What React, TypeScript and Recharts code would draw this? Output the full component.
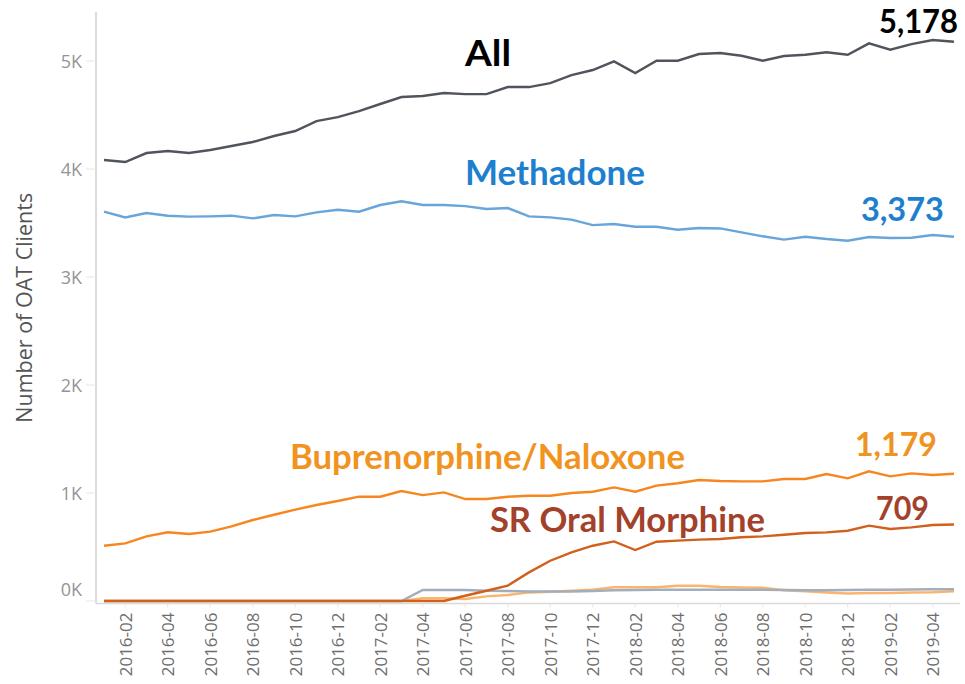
import React from 'react';
import { LineChart, Line, XAxis, YAxis, ReferenceDot, Label } from 'recharts';

const months = [
  '2016-01', '2016-02', '2016-03', '2016-04', '2016-05', '2016-06', '2016-07', '2016-08', '2016-09', '2016-10', '2016-11', '2016-12',
  '2017-01', '2017-02', '2017-03', '2017-04', '2017-05', '2017-06', '2017-07', '2017-08', '2017-09', '2017-10', '2017-11', '2017-12',
  '2018-01', '2018-02', '2018-03', '2018-04', '2018-05', '2018-06', '2018-07', '2018-08', '2018-09', '2018-10', '2018-11', '2018-12',
  '2019-01', '2019-02', '2019-03', '2019-04', '2019-05',
];

const tickMonths = [
  '2016-02', '2016-04', '2016-06', '2016-08', '2016-10', '2016-12',
  '2017-02', '2017-04', '2017-06', '2017-08', '2017-10', '2017-12',
  '2018-02', '2018-04', '2018-06', '2018-08', '2018-10', '2018-12',
  '2019-02', '2019-04',
];

const yTicks = [0, 1000, 2000, 3000, 4000, 5000];

const allClients = [
  4083, 4065, 4148, 4167, 4148, 4176, 4213, 4250, 4306, 4352, 4444, 4481,
  4537, 4602, 4667, 4676, 4704, 4694, 4694, 4759, 4759, 4796, 4870, 4917,
  4997, 4889, 5003, 5003, 5065, 5074, 5049, 5003, 5046, 5058, 5081, 5058,
  5164, 5105, 5157, 5194, 5178,
];

const methadone = [
  3605, 3552, 3593, 3568, 3559, 3562, 3568, 3543, 3574, 3562, 3599, 3623,
  3605, 3667, 3701, 3667, 3667, 3657, 3630, 3639, 3562, 3552, 3531, 3481,
  3491, 3466, 3466, 3438, 3454, 3450, 3414, 3377, 3346, 3373, 3352, 3336,
  3370, 3361, 3364, 3389, 3373,
];

const buprenorphine = [
  512, 534, 599, 636, 620, 642, 691, 750, 799, 846, 889, 926,
  966, 966, 1019, 981, 1006, 944, 944, 966, 975, 975, 1000, 1012,
  1052, 1012, 1068, 1090, 1120, 1111, 1108, 1108, 1130, 1130, 1176, 1136,
  1201, 1154, 1182, 1167, 1179,
];

const srOralMorphine = [
  0, 0, 0, 0, 0, 0, 0, 0, 0, 0, 0, 0,
  0, 0, 0, 0, 0, 49, 95, 142, 265, 373, 451, 512,
  552, 472, 549, 559, 568, 574, 590, 599, 614, 630, 636, 651,
  698, 667, 682, 704, 709,
];

const otherA = [
  0, 0, 0, 0, 0, 0, 0, 0, 0, 0, 0, 0,
  0, 0, 0, 102, 102, 102, 95, 92, 89, 89, 89, 92,
  99, 102, 105, 105, 105, 105, 105, 105, 103, 100, 100, 102,
  105, 105, 107, 108, 110,
];

const otherB = [
  0, 0, 0, 0, 0, 0, 0, 0, 0, 0, 0, 0,
  0, 0, 0, 25, 25, 18, 43, 56, 80, 86, 95, 105,
  127, 128, 127, 142, 142, 130, 125, 122, 100, 90, 78, 70,
  75, 75, 80, 82, 90,
];

const annotationTexts = ['All', '5,178', 'Methadone', '3,373', 'Buprenorphine/Naloxone', '1,179', 'SR Oral Morphine', '709'];

const data = months.map((m, i) => ({
  idx: i,
  month: m,
  all: allClients[i],
  methadone: methadone[i],
  bup: buprenorphine[i],
  sr: srOralMorphine[i],
  otherA: otherA[i],
  otherB: otherB[i],
}));

const tickIdx = tickMonths.map((t) => months.indexOf(t));

// annotation placement: x index, y value at baseline, color, font size, width
const annotationStyle = [
  { x: 16.99, y: 4954, color: '#000000', size: 36, w: 46 },
  { x: 36.47, y: 5262, color: '#000000', size: 32, w: 79 },
  { x: 16.99, y: 3852, color: '#1f7fcf', size: 35, w: 180 },
  { x: 35.62, y: 3519, color: '#1f7fcf', size: 32, w: 83 },
  { x: 8.75, y: 1222, color: '#f0931f', size: 35, w: 395 },
  { x: 35.34, y: 1343, color: '#f0931f', size: 32, w: 82 },
  { x: 18.16, y: 639, color: '#a3412a', size: 35, w: 275 },
  { x: 36.33, y: 750, color: '#a3412a', size: 32, w: 53 },
];

const XTick = (props: any) => {
  const { x, y, payload } = props;
  const label = months[payload.value] ?? '';
  return (
    <text
      x={x}
      y={y}
      transform={`rotate(-90 ${x} ${y})`}
      textAnchor="end"
      dominantBaseline="central"
      fill="#6e6e6e"
      fontSize={17}
      fontFamily="'Open Sans', sans-serif"
    >
      {label}
    </text>
  );
};

const YTick = (props: any) => {
  const { x, y, payload } = props;
  return (
    <text
      x={x}
      y={payload.value === 0 ? y - 12 : y}
      textAnchor="end"
      dominantBaseline="central"
      fill="#959595"
      fontSize={18}
      fontFamily="'Open Sans', sans-serif"
    >
      {`${payload.value / 1000}K`}
    </text>
  );
};

const series = [
  { key: 'otherB', color: '#f9b56e', width: 2.5 },
  { key: 'otherA', color: '#a2aebb', width: 2.5 },
  { key: 'all', color: '#50555c', width: 2.4 },
  { key: 'methadone', color: '#67a5da', width: 2.4 },
  { key: 'bup', color: '#f7861f', width: 2.4 },
  { key: 'sr', color: '#d2601a', width: 2.4 },
];

export default function App() {
  return (
    <div style={{ position: 'absolute', left: 0, top: 0, background: '#fff' }}>
      <LineChart
        width={965}
        height={684}
        data={data}
        margin={{ top: 12, right: 5, left: 0, bottom: 0 }}
      >
        <XAxis
          dataKey="idx"
          type="number"
          domain={[0, 40]}
          ticks={tickIdx}
          interval={0}
          padding={{ left: 8, right: 6 }}
          height={80.5}
          axisLine={{ stroke: '#d9d9d9', strokeWidth: 1.5 }}
          tickLine={{ stroke: '#e6e6e6' }}
          tickSize={4}
          tickMargin={5}
          tick={<XTick />}
        />
        <YAxis
          type="number"
          domain={[-23, 5454]}
          ticks={yTicks}
          interval={0}
          width={96}
          axisLine={{ stroke: '#dcdcdc', strokeWidth: 2 }}
          tickLine={{ stroke: '#e6e6e6' }}
          tickSize={10}
          tickMargin={4}
          tick={<YTick />}
        >
          <Label
            value="Number of OAT Clients"
            angle={-90}
            position="insideLeft"
            offset={24}
            style={{ textAnchor: 'middle', fill: '#555555', fontSize: 21.5, fontFamily: "'Open Sans', sans-serif" }}
          />
        </YAxis>
        {series.map((s) => (
          <Line
            key={s.key}
            type="linear"
            dataKey={s.key}
            stroke={s.color}
            strokeWidth={s.width}
            dot={false}
            activeDot={false}
            isAnimationActive={false}
          />
        ))}
        {annotationStyle.map((a, i) => (
          <ReferenceDot
            key={i}
            x={a.x}
            y={a.y}
            r={1}
            ifOverflow="visible"
            shape={(p: any) => (
              <text
                x={p.cx}
                y={p.cy}
                fill={a.color}
                fontSize={a.size}
                fontWeight={700}
                fontFamily="Lato, 'Open Sans', sans-serif"
                textLength={a.w}
                lengthAdjust="spacingAndGlyphs"
              >
                {annotationTexts[i]}
              </text>
            )}
          />
        ))}
      </LineChart>
    </div>
  );
}
